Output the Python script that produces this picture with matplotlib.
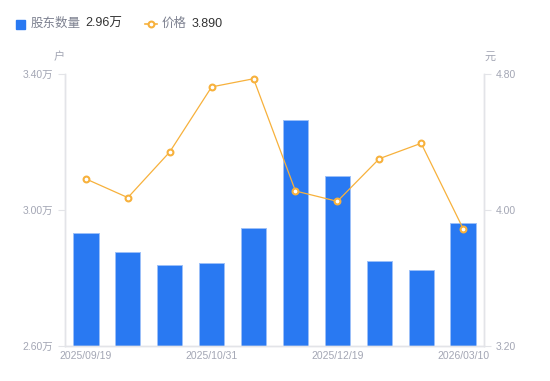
import matplotlib
matplotlib.use("Agg")
import matplotlib.pyplot as plt
from matplotlib.lines import Line2D

plt.rcParams['font.family'] = ['Liberation Sans', 'Noto Sans CJK SC', 'DejaVu Sans']

# data
holders = [2.931, 2.875, 2.837, 2.844, 2.946, 3.264, 3.099, 2.849, 2.824, 2.960]  # 万户
prices = [4.182, 4.072, 4.341, 4.724, 4.772, 4.111, 4.050, 4.301, 4.392, 3.890]  # 元
tick_idx = [0, 3, 6, 9]
tick_labels = ['2025/09/19', '2025/10/31', '2025/12/19', '2026/03/10']
left_ticks = [2.60, 3.00, 3.40]
right_ticks = [3.20, 4.00, 4.80]

BAR = '#2979F2'
LINE = '#F7B13C'
GRAY = '#A3A6B4'
AXIS = '#E3E4E8'

fig = plt.figure(figsize=(5.5, 3.81), dpi=100)
ax = fig.add_axes([0.1182, 0.0927, 0.7618, 0.7131])
ax2 = ax.twinx()

x = list(range(len(holders)))
ax.bar(x, holders, width=0.6, color=BAR, edgecolor='#9CC0F8', linewidth=0.7, zorder=2)
ax.set_xlim(-0.5, len(holders) - 0.5)
ax.set_ylim(2.60, 3.40)
ax.set_yticks(left_ticks)
ax.set_yticklabels([f'{v:.2f}万' for v in left_ticks])
ax.set_xticks(tick_idx)
ax.set_xticklabels(tick_labels)

ax2.plot(x, prices, color=LINE, lw=0.9, marker='o', ms=4.2, mfc='white',
         mec=LINE, mew=1.5, zorder=3)
ax2.set_ylim(3.20, 4.80)
ax2.set_yticks(right_ticks)
ax2.set_yticklabels([f'{v:.2f}' for v in right_ticks])

for a in (ax, ax2):
    for s in a.spines.values():
        s.set_color(AXIS)
        s.set_linewidth(1.0)
    a.spines['top'].set_visible(False)
    a.tick_params(colors=GRAY, labelsize=7.5, length=5, width=0.8)
    a.tick_params(axis='y', color=AXIS, labelcolor=GRAY)
ax.tick_params(axis='x', length=0, pad=4)
ax.set_zorder(ax2.get_zorder() - 1)
ax2.patch.set_visible(False)

# unit labels
fig.text(59 / 550, 1 - 57 / 381, '户', color=GRAY, fontsize=8, ha='center', va='center')
fig.text(490 / 550, 1 - 57 / 381, '元', color=GRAY, fontsize=8, ha='center', va='center')

# legend row
ly = 1 - 24 / 381
fig.patches.append(plt.Rectangle((16 / 550, 1 - 28.5 / 381), 8.5 / 550, 8.5 / 381,
                                 transform=fig.transFigure, color=BAR))
fig.text(31 / 550, ly, '股东数量', color='#7D8190', fontsize=9, va='center')
fig.text(85 / 550, ly, f'{holders[-1]:.2f}万', color='#333333', fontsize=9, va='center')
fig.lines.append(Line2D([145 / 550, 157 / 550], [ly, ly], transform=fig.transFigure,
                        color=LINE, lw=1.2))
fig.lines.append(Line2D([151 / 550], [ly], transform=fig.transFigure, color=LINE,
                        marker='o', ms=4.2, mfc='white', mec=LINE, mew=1.5, lw=0))
fig.text(162 / 550, ly, '价格', color='#7D8190', fontsize=9, va='center')
fig.text(192 / 550, ly, f'{prices[-1]:.3f}', color='#333333', fontsize=9, va='center')

fig.savefig('out.png', dpi=100)
